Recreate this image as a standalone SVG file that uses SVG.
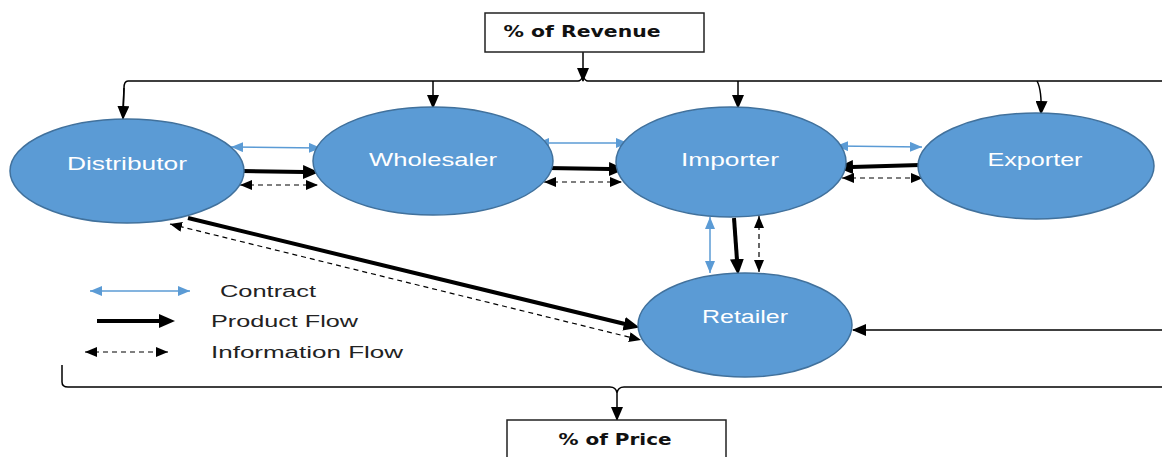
<svg xmlns="http://www.w3.org/2000/svg" width="1162" height="457" viewBox="0 0 1162 457">
<style>
.node{fill:#5B9BD5;stroke:#41719C;stroke-width:1.5}
.lbl{font-family:"Liberation Sans",Arial,sans-serif;font-size:18px;fill:#FFFFFF;text-anchor:middle}
.leg{font-family:"Liberation Sans",Arial,sans-serif;font-size:16px;fill:#222222}
.box{fill:#FFFFFF;stroke:#222222;stroke-width:1.5}
.boxt{font-family:"DejaVu Sans","Liberation Sans",sans-serif;font-weight:bold;font-size:16px;fill:#111111;text-anchor:middle}
.contract{stroke:#5B9BD5;stroke-width:1.5;fill:none;marker-start:url(#mb);marker-end:url(#mb)}
.product{stroke:#000;stroke-width:4;fill:none;marker-end:url(#mp)}
.info{stroke:#000;stroke-width:1.2;stroke-dasharray:5,4;fill:none;marker-start:url(#mi);marker-end:url(#mi)}
.thin{stroke:#000;stroke-width:1.5;fill:none}
.ta{marker-end:url(#mt)}
</style>
<defs>
<marker id="mb" markerUnits="userSpaceOnUse" markerWidth="12" markerHeight="10" refX="12" refY="5" orient="auto-start-reverse"><path d="M0,0 L12,5 L0,10 z" fill="#5B9BD5"/></marker>
<marker id="mp" markerUnits="userSpaceOnUse" markerWidth="16" markerHeight="14" refX="1" refY="7" orient="auto"><path d="M0,0 L16,7 L0,14 z" fill="#000"/></marker>
<marker id="mi" markerUnits="userSpaceOnUse" markerWidth="12" markerHeight="10" refX="12" refY="5" orient="auto-start-reverse"><path d="M0,0 L12,5 L0,10 z" fill="#000"/></marker>
<marker id="mt" markerUnits="userSpaceOnUse" markerWidth="14" markerHeight="12" refX="13" refY="6" orient="auto"><path d="M0,0 L14,6 L0,12 z" fill="#000"/></marker>
</defs>

<g id="connectors">
<!-- top bracket -->
<path class="thin" d="M1162,81 L588,81 Q585,81 583,76 Q581,81 578,81 L128,81 Q124,81 124,88 L123,109" />
<path class="thin ta" d="M124,88 L123,119" />
<path class="thin ta" d="M583,52 L583,81" />
<path class="thin ta" d="M433,81 L433,108" />
<path class="thin ta" d="M738,81 L738,108" />
<path class="thin ta" d="M1037,81 Q1042,90 1041,114" />
<!-- bottom bracket -->
<path class="thin" d="M62,365 L62,382 Q62,387 68,387 L610,387 Q616,387 617,393 Q618,387 624,387 L1162,387" />
<path class="thin ta" d="M617,393 L617,420" />
<!-- right return to retailer -->
<path class="thin ta" d="M1162,330 L853,330" />

<!-- Distributor - Wholesaler -->
<line class="contract" x1="231" y1="147" x2="321" y2="148"/>
<line class="product" x1="242" y1="171" x2="304" y2="172"/>
<line class="info" x1="240" y1="185" x2="318" y2="185"/>
<!-- Wholesaler - Importer -->
<line class="contract" x1="537" y1="143" x2="628" y2="143"/>
<line class="product" x1="547" y1="168" x2="610" y2="169"/>
<line class="info" x1="544" y1="182" x2="622" y2="182"/>
<!-- Importer - Exporter -->
<line class="contract" x1="836" y1="146" x2="922" y2="147"/>
<line class="product" x1="920" y1="165" x2="852" y2="167"/>
<line class="info" x1="842" y1="178" x2="923" y2="178"/>
<!-- Importer - Retailer -->
<line class="contract" x1="710" y1="217" x2="710" y2="273"/>
<line class="product" x1="734" y1="218" x2="737" y2="260"/>
<line class="info" x1="759" y1="216" x2="759" y2="272"/>
<!-- Distributor - Retailer -->
<line class="product" x1="188" y1="218" x2="625" y2="324"/>
<line class="info" x1="170" y1="224" x2="641" y2="340"/>
</g>

<g id="revenue">
<rect class="box" x="485" y="13" width="219" height="39"/>
<text class="boxt" x="582" y="37" textLength="157" lengthAdjust="spacingAndGlyphs">% of Revenue</text>
</g>
<g id="price">
<rect class="box" x="507" y="420" width="219" height="45"/>
<text class="boxt" x="615" y="445" textLength="113" lengthAdjust="spacingAndGlyphs">% of Price</text>
</g>

<g id="distributor">
<ellipse class="node" cx="127" cy="171" rx="117" ry="52"/>
<text class="lbl" x="127" y="170" textLength="120" lengthAdjust="spacingAndGlyphs">Distributor</text>
</g>
<g id="wholesaler">
<ellipse class="node" cx="433" cy="161" rx="120" ry="54"/>
<text class="lbl" x="433" y="166" textLength="128" lengthAdjust="spacingAndGlyphs">Wholesaler</text>
</g>
<g id="importer">
<ellipse class="node" cx="731" cy="162" rx="115" ry="55"/>
<text class="lbl" x="730" y="166" textLength="98" lengthAdjust="spacingAndGlyphs">Importer</text>
</g>
<g id="exporter">
<ellipse class="node" cx="1036" cy="166" rx="118" ry="53"/>
<text class="lbl" x="1035" y="166" textLength="95" lengthAdjust="spacingAndGlyphs">Exporter</text>
</g>
<g id="retailer">
<ellipse class="node" cx="745" cy="325" rx="107" ry="52"/>
<text class="lbl" x="745" y="323" textLength="86" lengthAdjust="spacingAndGlyphs">Retailer</text>
</g>

<g id="legend">
<line class="contract" x1="90" y1="291" x2="190" y2="291"/>
<text class="leg" x="220" y="297" textLength="96" lengthAdjust="spacingAndGlyphs">Contract</text>
<line class="product" x1="97" y1="321" x2="160" y2="321"/>
<text class="leg" x="211" y="327" textLength="147" lengthAdjust="spacingAndGlyphs">Product Flow</text>
<line class="info" x1="85" y1="352" x2="168" y2="352"/>
<text class="leg" x="211" y="358" textLength="192" lengthAdjust="spacingAndGlyphs">Information Flow</text>
</g>
</svg>
